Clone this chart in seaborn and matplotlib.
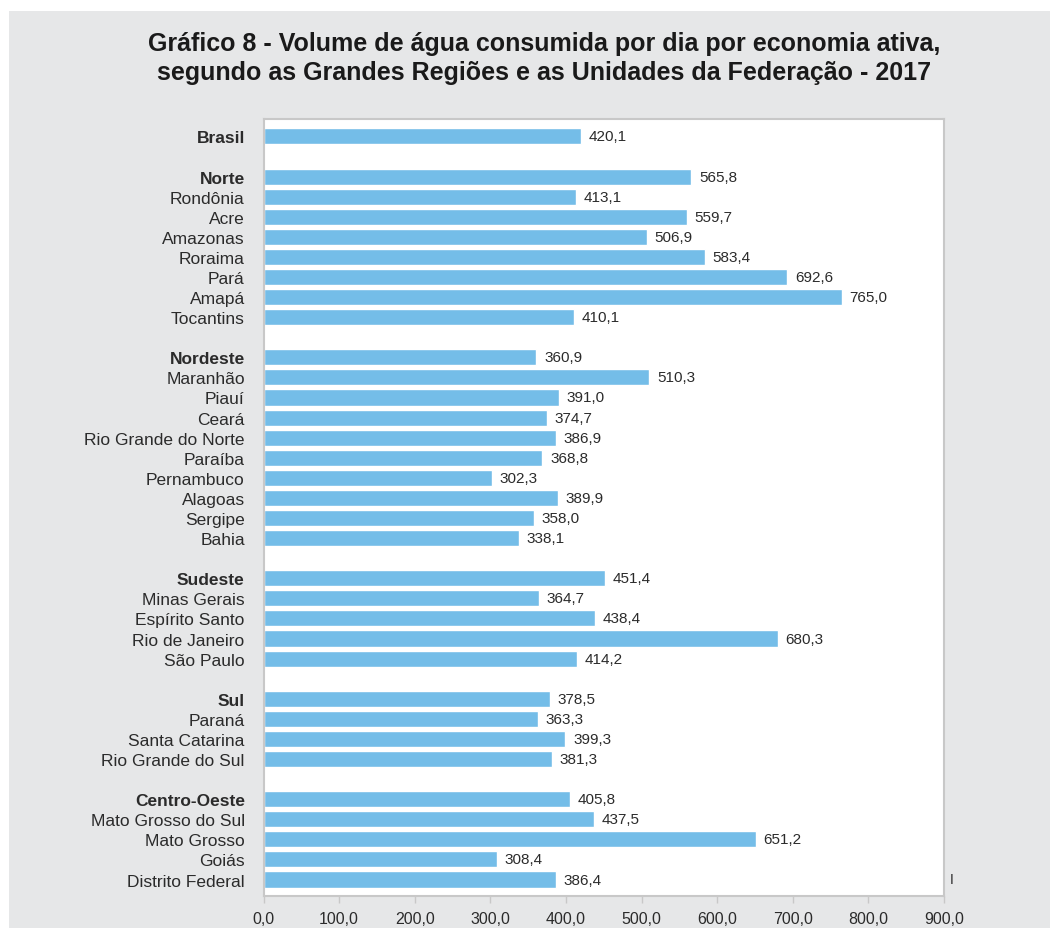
import matplotlib
matplotlib.use("Agg")
import matplotlib.pyplot as plt
from matplotlib.patches import Rectangle
import seaborn as sns
import pandas as pd

# ---- data ----
categories = [
    "Brasil",
    "Norte", "Rondônia", "Acre", "Amazonas", "Roraima", "Pará", "Amapá", "Tocantins",
    "Nordeste", "Maranhão", "Piauí", "Ceará", "Rio Grande do Norte", "Paraíba",
    "Pernambuco", "Alagoas", "Sergipe", "Bahia",
    "Sudeste", "Minas Gerais", "Espírito Santo", "Rio de Janeiro", "São Paulo",
    "Sul", "Paraná", "Santa Catarina", "Rio Grande do Sul",
    "Centro-Oeste", "Mato Grosso do Sul", "Mato Grosso", "Goiás", "Distrito Federal",
]
values = [
    420.1,
    565.8, 413.1, 559.7, 506.9, 583.4, 692.6, 765.0, 410.1,
    360.9, 510.3, 391.0, 374.7, 386.9, 368.8, 302.3, 389.9, 358.0, 338.1,
    451.4, 364.7, 438.4, 680.3, 414.2,
    378.5, 363.3, 399.3, 381.3,
    405.8, 437.5, 651.2, 308.4, 386.4,
]
regions = ["Brasil", "Norte", "Nordeste", "Sudeste", "Sul", "Centro-Oeste"]
x_ticks = [0, 100, 200, 300, 400, 500, 600, 700, 800, 900]

# order with empty slots before each region (except Brasil)
order = []
gap = 1
for c in categories:
    if c in regions and c != "Brasil":
        order.append(" " * gap)
        gap += 1
    order.append(c)

df = pd.DataFrame({"cat": categories, "val": values})

sns.set_theme(style="white")
plt.rcParams["font.family"] = ["Liberation Sans", "DejaVu Sans"]

W, H = 1051, 929
fig = plt.figure(figsize=(W / 100, H / 100), dpi=100, facecolor="white")
fig.patches.append(Rectangle((9 / W, 0), (1050 - 9) / W, (H - 12) / H,
                             transform=fig.transFigure, facecolor="#e6e7e8",
                             edgecolor="none", zorder=-10))

ax_left, ax_right = 263.5, 944.0
ax = fig.add_axes([ax_left / W, (H - 897) / H, (ax_right - ax_left) / W, (897 - 119.5) / H])
ax.set_facecolor("white")

bar_color = "#74bde8"
sns.barplot(data=df, x="val", y="cat", order=order, color=bar_color,
            width=0.8, saturation=1, ax=ax, orient="h", errorbar=None)

text_color = "#2b2b2b"
for cont in ax.containers:
    ax.bar_label(cont, fmt=lambda v: f"{v:.1f}".replace(".", ","),
                 padding=5.5, fontsize=11, color=text_color)

ax.set_xlim(0, 900)
ax.set_ylim(len(order) - 1 + 0.82, -0.89)
ax.set_xticks(x_ticks)
ax.set_xticklabels([f"{t:.1f}".replace(".", ",") for t in x_ticks],
                   fontsize=11.5, color=text_color)
ax.set_xlabel("")
ax.set_ylabel("")

ax.tick_params(axis="x", bottom=True, length=5, width=1, color="#c8c8c8",
               pad=5.5, direction="out")
ax.tick_params(axis="y", left=False, pad=7.5)
for lab in ax.get_yticklabels():
    lab.set_fontsize(12.5)
    lab.set_color(text_color)
    if lab.get_text() in regions:
        lab.set_fontweight("bold")

for s in ax.spines.values():
    s.set_visible(True)
    s.set_color("#c8c8c8")
    s.set_linewidth(1.5)

fig.text(544 / W, 1 - 58.5 / H,
         "Gráfico 8 - Volume de água consumida por dia por economia ativa,\n"
         "segundo as Grandes Regiões e as Unidades da Federação - 2017",
         ha="center", va="center", fontsize=18, fontweight="bold",
         color="#1a1a1a", linespacing=1.3)

fig.text((ax_right + 8) / W, 1 - 880 / H, "I", ha="center", va="center",
         fontsize=10, color=text_color)

fig.savefig("out.png", dpi=100, facecolor=fig.get_facecolor())
